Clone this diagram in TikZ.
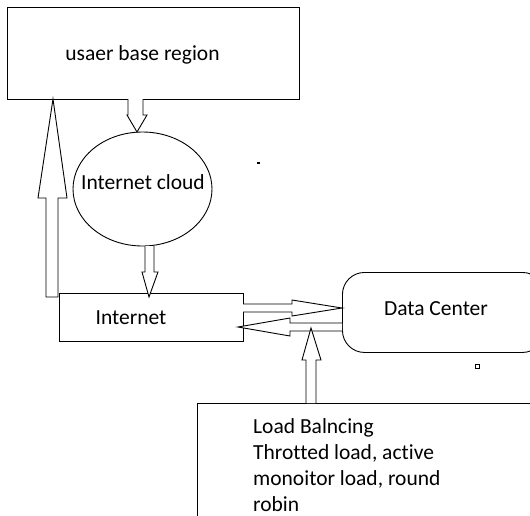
\documentclass[tikz,border=0pt]{standalone}
\usepackage{fontspec}
\setmainfont[Ligatures=NoCommon]{Carlito}
\usetikzlibrary{shapes.geometric}
\begin{document}
\begin{tikzpicture}[x=1pt,y=-1pt,
  box/.style={draw=black, line width=0.9pt, inner sep=0pt, anchor=north west},
  blockarrow/.style={draw=black, line width=0.9pt, fill=white, line join=miter},
  lbl/.style={font=\fontsize{21.5}{26}\selectfont, text=black, inner sep=0pt, anchor=base}]
\useasboundingbox (0,0) rectangle (530,515);
\clip (0,0) rectangle (530,515);
% boxes
\node[box, minimum width=292pt, minimum height=92pt] (user) at (7,7) {};
\node[box, ellipse, anchor=center, minimum width=139pt, minimum height=114pt] (cloud) at (142.5,189) {};
\node[box, minimum width=184pt, minimum height=48pt] (inet) at (59,293) {};
\node[box, rounded corners=22pt, minimum width=202pt, minimum height=80pt] (dc) at (342,272) {};
\node[box, minimum width=350pt, minimum height=130pt] (lb) at (197,403) {};
% texts
\node[lbl] (usertxt) at (142.5,60) {usaer base region};
\node[lbl] (cloudtxt) at (143,189) {Internet cloud};
\node[lbl] (inettxt) at (131,324) {Internet};
\node[lbl] (dctxt) at (436,315) {Data Center};
\node[lbl, anchor=base west, align=left] (lbtxt) at (253,511) {Load Balncing\\Throtted load, active\\monoitor load, round\\robin};
% block arrows
\draw[blockarrow] (128,99) -- (128,115) -- (127,115) -- (137,132) -- (147,115) -- (143,115) -- (143,99);
\draw[blockarrow] (145,246) -- (145,272) -- (142,272) -- (149,297) -- (158,272) -- (154,272) -- (154,246);
\draw[blockarrow] (58,297) -- (46,297) -- (46,198) -- (38,198) -- (53,99) -- (67,198) -- (58,198) -- cycle;
\draw[blockarrow] (243,304) -- (292,304) -- (292,300) -- (342,308) -- (292,316) -- (292,312) -- (243,312);
\draw[blockarrow] (342,323) -- (290,323) -- (290,318) -- (238,327) -- (290,336) -- (290,331) -- (342,331);
\draw[blockarrow] (306,403) -- (306,360) -- (302,360) -- (311,328) -- (321,360) -- (316,360) -- (316,403);
% stray marks
\fill[black] (256.5,161.5) rectangle (259.5,163.5);
\draw[line width=1pt] (475,364) rectangle (479,368);
\end{tikzpicture}
\end{document}
